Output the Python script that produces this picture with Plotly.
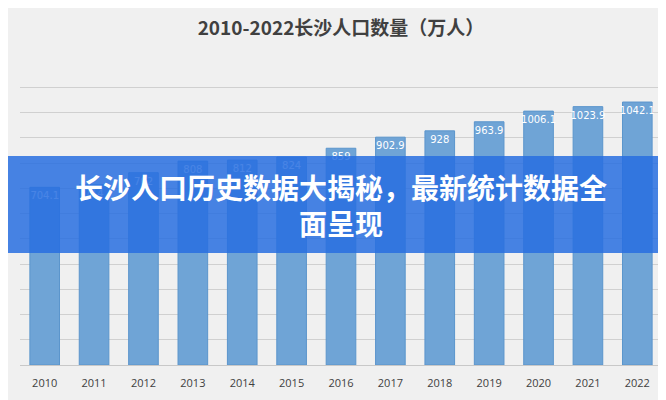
import plotly.graph_objects as go

years = ["2010","2011","2012","2013","2014","2015","2016","2017","2018","2019","2020","2021","2022"]
pop = [704.1, 714, 762, 808, 812, 824, 859, 902.9, 928, 963.9, 1006.1, 1023.9, 1042.1]
labels = ["704.1","714","762","808","812","824","859","902.9","928","963.9","1006.1","1023.9","1042.1"]

fig = go.Figure(go.Bar(x=years, y=pop, text=labels, textposition="inside", insidetextanchor="end",
                       textangle=0, constraintext="none",
                       textfont=dict(color="white", size=10, family="DejaVu Sans"),
                       marker=dict(color="#6fa4d6", line=dict(color="#5b95cc", width=1)), width=0.6))
fig.update_layout(
    width=666, height=400, margin=dict(l=12, r=12, t=60, b=43),
    paper_bgcolor="#f0f0f0", plot_bgcolor="#f0f0f0",
    title=dict(text="<b>2010-2022长沙人口数量（万人）</b>", x=0.5, y=0.948, xanchor="center", yanchor="middle",
               font=dict(size=19, color="#404040", family="Noto Sans CJK SC")),
    yaxis=dict(range=[0, 1177], dtick=100, showticklabels=False, gridcolor="#d0d0d0", zeroline=False),
    xaxis=dict(tickfont=dict(size=11, color="#404040"), showline=True, linecolor="#c8c8c8",
               ticklabelstandoff=8),
    showlegend=False,
    shapes=[dict(type="rect", xref="paper", yref="paper", x0=-0.02, x1=1.02, y0=0.377, y1=0.704,
                 fillcolor="rgba(40,110,225,0.85)", line=dict(width=0), layer="above")],
    annotations=[dict(text="<b>长沙人口历史数据大揭秘，最新统计数据全<br>面呈现</b>", xref="paper", yref="paper",
                      x=0.5, y=0.54, showarrow=False,
                      font=dict(size=28, color="white", family="Noto Sans CJK SC"))],
)
fig.write_html("out.html")
